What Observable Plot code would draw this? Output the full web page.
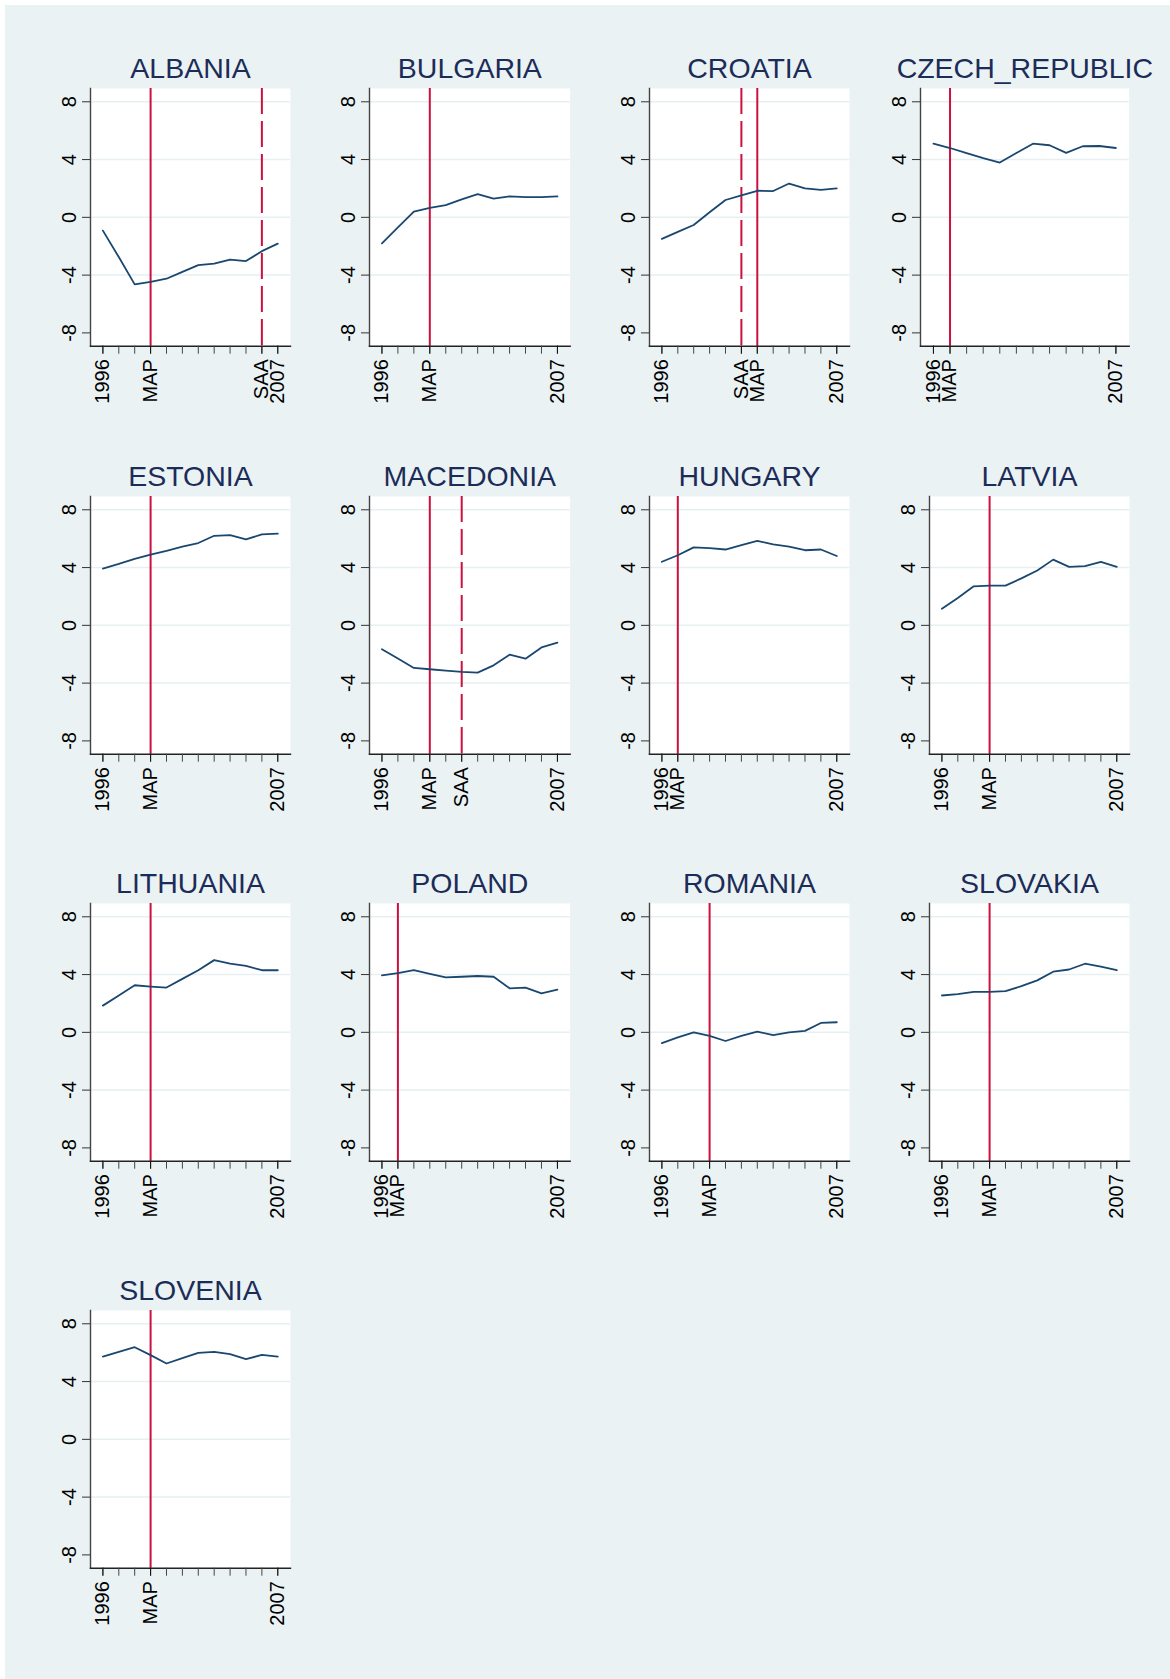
<!DOCTYPE html>
<html><head><meta charset="utf-8">
<script src="https://cdn.jsdelivr.net/npm/d3@7"></script>
<script src="https://cdn.jsdelivr.net/npm/@observablehq/plot@0.6"></script>
<style>
html,body{margin:0;padding:0;background:#fff;}
#page{position:absolute;left:5px;top:5px;width:1165px;height:1674px;background:#eaf2f3;overflow:hidden}
.panel{position:absolute}
.panel svg{overflow:visible}
</style></head><body><div id="page"></div>
<script>
const years = [1996,1997,1998,1999,2000,2001,2002,2003,2004,2005,2006,2007];
const countries = ["ALBANIA","BULGARIA","CROATIA","CZECH_REPUBLIC","ESTONIA","MACEDONIA","HUNGARY","LATVIA","LITHUANIA","POLAND","ROMANIA","SLOVAKIA","SLOVENIA"];
const mapYear = [1999,1999,2002,1997,1999,1999,1997,1999,1999,1997,1999,1999,1999];
const saaYear = [2006,null,2001,null,null,2001,null,null,null,null,null,null,null];

const albania   = [-0.92,-2.75,-4.64,-4.46,-4.25,-3.78,-3.31,-3.20,-2.92,-3.03,-2.34,-1.82];
const bulgaria  = [-1.80,-0.70,0.40,0.65,0.85,1.25,1.60,1.30,1.45,1.40,1.40,1.45];
const croatia   = [-1.49,-1.01,-0.53,0.35,1.20,1.52,1.84,1.82,2.34,2.00,1.90,2.00];
const czech     = [5.10,4.80,4.45,4.10,3.79,4.45,5.10,4.99,4.46,4.92,4.94,4.80];
const estonia   = [3.93,4.25,4.60,4.90,5.15,5.45,5.70,6.20,6.25,5.95,6.30,6.35];
const macedonia = [-1.65,-2.30,-2.95,-3.04,-3.13,-3.22,-3.27,-2.77,-2.03,-2.31,-1.53,-1.20];
const hungary   = [4.40,4.85,5.40,5.35,5.25,5.55,5.85,5.60,5.45,5.20,5.25,4.80];
const latvia    = [1.15,1.90,2.70,2.75,2.75,3.25,3.80,4.55,4.05,4.10,4.40,4.05];
const lithuania = [1.85,2.55,3.26,3.17,3.10,3.70,4.30,5.00,4.75,4.60,4.30,4.30];
const poland    = [3.95,4.10,4.30,4.05,3.80,3.85,3.90,3.85,3.05,3.10,2.70,2.95];
const romania   = [-0.75,-0.35,0.00,-0.25,-0.60,-0.25,0.05,-0.20,0.00,0.10,0.65,0.70];
const slovakia  = [2.55,2.65,2.80,2.80,2.85,3.20,3.60,4.20,4.35,4.75,4.55,4.30];
const slovenia  = [5.73,6.06,6.38,5.83,5.25,5.62,5.99,6.06,5.90,5.55,5.85,5.73];
const seriesValues = [albania,bulgaria,croatia,czech,estonia,macedonia,hungary,latvia,lithuania,poland,romania,slovakia,slovenia];

const yTicks = [-8,-4,0,4,8];
const gridTicks = [-4,0,4,8];

// layout (page coordinates of each plot region)
const colLeft = [90, 369.3, 649.3, 928.7];
const colWidth = [200, 200.7, 200, 200];
const rowTop0 = 88.3, rowStep = 407.3, plotH = 257.7;
const mL = 70, mT = 60, mR = 50, mB = 80;

const page = document.getElementById("page");
const RED = "#cc1040", NAVY = "#1a476f", FONT = "'Liberation Sans', Arial, sans-serif";

countries.forEach((name, i) => {
  const c = i % 4, r = Math.floor(i / 4);
  let L = colLeft[c], W = colWidth[c];
  if (name === "CZECH_REPUBLIC") { L = 920; W = 208.7; }
  const T = rowTop0 + rowStep * r;
  const data = years.map((yr, k) => ({year: yr, value: seriesValues[i][k]}));
  const labelTicks = [1996, mapYear[i], saaYear[i], 2007].filter(d => d != null);
  const fmt = y => y === mapYear[i] ? "MAP" : y === saaYear[i] ? "SAA" : String(y);
  const svg = Plot.plot({
    width: W + mL + mR, height: plotH + mT + mB,
    marginLeft: mL, marginRight: mR, marginTop: mT, marginBottom: mB,
    style: {background: "transparent", fontFamily: FONT, overflow: "visible", maxWidth: "none", color: "#000"},
    x: {domain: [1995.22, 2007.8]},
    y: {domain: [-8.92, 8.92]},
    marks: [
      Plot.frame({fill: "white", stroke: null}),
      Plot.gridY(gridTicks, {stroke: "#e6eff1", strokeOpacity: 1, strokeWidth: 1.5}),
      Plot.ruleX([mapYear[i]], {stroke: RED, strokeWidth: 2}),
      Plot.ruleX(saaYear[i] ? [saaYear[i]] : [], {stroke: RED, strokeWidth: 2, strokeDasharray: "26,7"}),
      Plot.line(data, {x: "year", y: "value", stroke: NAVY, strokeWidth: 1.8}),
      Plot.frame({anchor: "left", stroke: "#444", strokeWidth: 1.4}),
      Plot.frame({anchor: "bottom", stroke: "#222", strokeWidth: 1.4}),
      Plot.axisY(yTicks, {tickSize: 8, tickRotate: -90, tickPadding: 7, tickFormat: d => String(d), fontSize: 20, label: null, stroke: "#333", fill: "#000"}),
      Plot.axisX(years, {tickSize: 8, tickFormat: () => "", label: null, stroke: "#444"}),
      Plot.axisX(labelTicks, {tickSize: 8, tickRotate: -90, tickPadding: 5, tickFormat: fmt, fontSize: 20, label: null, stroke: "#111", fill: "#000"}),
      Plot.text([name], {frameAnchor: "top", dy: -10, lineAnchor: "bottom", fontSize: 28.5, fill: "#1c2c58"})
    ]
  });
  const div = document.createElement("div");
  div.className = "panel";
  div.style.left = (L - mL - 5) + "px";
  div.style.top = (T - mT - 5) + "px";
  div.style.width = (W + mL + mR) + "px";
  div.appendChild(svg);
  page.appendChild(div);
});
</script></body></html>
